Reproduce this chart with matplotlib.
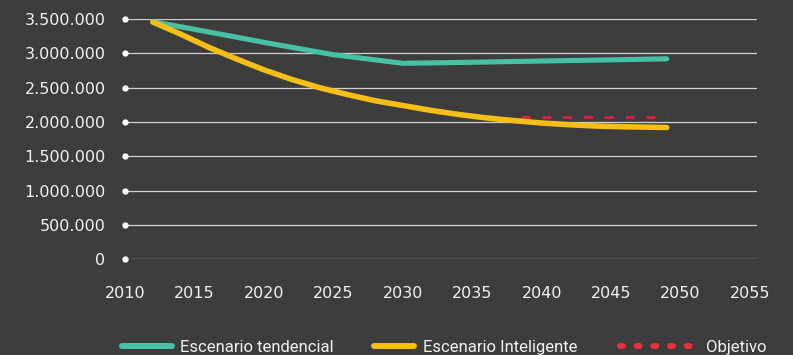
import matplotlib.pyplot as plt
from matplotlib.lines import Line2D
from matplotlib.ticker import FuncFormatter

# Proyección 2012-2049 (valores absolutos)
anios_tend = [2012, 2015, 2020, 2025, 2030, 2035, 2040, 2045, 2049]
tendencial = [3460000, 3350000, 3160000, 2980000, 2855000, 2870000, 2888000, 2905000, 2920000]

anios_intel = [2012, 2014, 2016, 2018, 2020, 2022, 2024, 2026, 2028, 2030,
               2032, 2034, 2036, 2038, 2040, 2042, 2044, 2046, 2049]
inteligente = [3456000, 3280000, 3090000, 2920000, 2760000, 2620000, 2500000, 2400000, 2310000, 2240000,
               2170000, 2110000, 2060000, 2020000, 1985000, 1960000, 1940000, 1930000, 1920000]

anios_obj = [2038.5, 2049]
objetivo = [2070000, 2070000]

y_ticks = [0, 500000, 1000000, 1500000, 2000000, 2500000, 3000000, 3500000]
x_ticks = [2010, 2015, 2020, 2025, 2030, 2035, 2040, 2045, 2050, 2055]
nombres = ['Escenario tendencial', 'Escenario Inteligente', 'Objetivo']

FONDO = '#3d3d3d'
VERDE = '#46c1a4'
AMARILLO = '#f5bf17'
ROJO = '#d4213f'
ROJO_LEY = '#e8323f'
TEXTO = '#f2f2f2'

W, H = 793, 355
fig = plt.figure(figsize=(W / 100, H / 100), dpi=100, facecolor=FONDO)
ax = fig.add_axes([125 / W, (H - 259.3) / H, 632 / W, 240.3 / H])
ax.set_facecolor(FONDO)

ax.set_xlim(2010, 2055.5)
ax.set_ylim(0, 3500000)

ax.plot(anios_tend, tendencial, color=VERDE, lw=3.7, solid_capstyle='round',
        solid_joinstyle='round', clip_on=False, zorder=3)
ax.plot(anios_intel, inteligente, color=AMARILLO, lw=4.0, solid_capstyle='round',
        solid_joinstyle='round', clip_on=False, zorder=4)
ax.plot(anios_obj, objetivo, color=ROJO, lw=2.2, linestyle=(0, (3.0, 3.8)), zorder=2)

# rejilla horizontal con un punto al inicio de cada línea
for v in y_ticks:
    ax.axhline(v, color='#d2d2d2', lw=0.9, zorder=1)
ax.plot([2010] * len(y_ticks), y_ticks, 'o', color='white', ms=3.5,
        clip_on=False, zorder=5)

ax.set_yticks(y_ticks)
ax.yaxis.set_major_formatter(FuncFormatter(lambda v, p: f'{int(v):,}'.replace(',', '.')))
ax.set_xticks(x_ticks)
ax.tick_params(axis='y', length=0, pad=14, labelsize=11.5, labelcolor=TEXTO)
ax.tick_params(axis='x', length=0, pad=19, labelsize=11.5, labelcolor=TEXTO)
for s in ax.spines.values():
    s.set_visible(False)

# leyenda inferior dibujada a mano (cada muestra con su propio largo)
y_muestra = (H - 346.3) / H
y_texto = 3 / H
muestras = [
    dict(x=(122, 171.5), color=VERDE, ls='-', texto_x=180),
    dict(x=(373.7, 413.7), color=AMARILLO, ls='-', texto_x=422.7),
    dict(x=(620.3, 690.3), color=ROJO_LEY, ls=(0, (0.5, 2.29)), texto_x=706),
]
for m, nombre in zip(muestras, nombres):
    fig.add_artist(Line2D([m['x'][0] / W, m['x'][1] / W], [y_muestra, y_muestra],
                          transform=fig.transFigure, color=m['color'], lw=4.3,
                          linestyle=m['ls'], solid_capstyle='round', dash_capstyle='round'))
    fig.text(m['texto_x'] / W, y_texto, nombre, color=TEXTO, fontsize=12,
             family='Roboto', ha='left', va='baseline')

fig.savefig('out.png', dpi=100, facecolor=FONDO)
